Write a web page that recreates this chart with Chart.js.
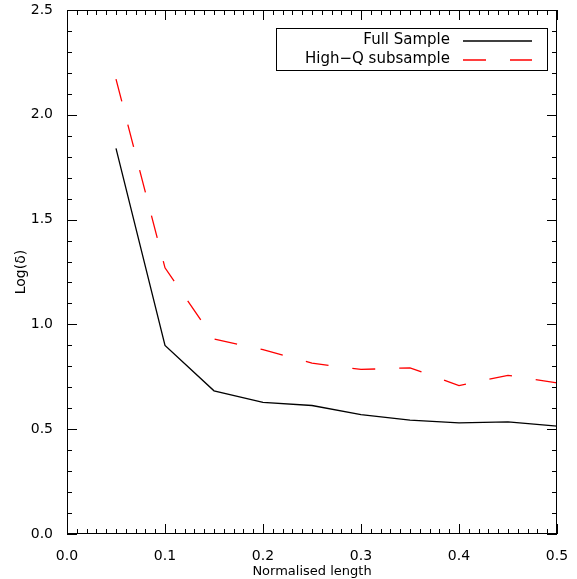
<!DOCTYPE html>
<html>
<head>
<meta charset="utf-8">
<script src="https://cdn.jsdelivr.net/npm/chart.js@4"></script>
<style>
  html, body { margin: 0; padding: 0; background: #fff; }
  #wrap { width: 577px; height: 579px; }
</style>
</head>
<body>
<div id="wrap"><canvas id="lineChart" width="577" height="579"></canvas></div>
<script>
// data
var lengths = [0.05, 0.10, 0.15, 0.20, 0.25, 0.30, 0.35, 0.40, 0.45, 0.50];
var fullSample = [1.84, 0.90, 0.683, 0.628, 0.613, 0.570, 0.543, 0.530, 0.535, 0.515];
var highQ = [2.17, 1.27, 0.93, 0.88, 0.815, 0.785, 0.793, 0.708, 0.757, 0.721];
var xTicks = [0.0, 0.1, 0.2, 0.3, 0.4, 0.5];
var yTicks = [0.0, 0.5, 1.0, 1.5, 2.0, 2.5];
var legendLabels = ["Full Sample", "High\u2212Q subsample"];

var font = "DejaVu Sans";

function pts(ys) {
    return lengths.map(function (x, i) { return { x: x, y: ys[i] }; });
}

// frame + inward ticks on all four sides, IDL style
var frameTicks = {
    id: "frameTicks",
    afterDraw: function (chart) {
        var ctx = chart.ctx, a = chart.chartArea;
        var xs = chart.scales.x, ys = chart.scales.y;
        ctx.save();
        ctx.strokeStyle = "#000";
        ctx.lineWidth = 1;
        ctx.strokeRect(a.left + 0.5, a.top + 0.5, a.right - a.left - 1, a.bottom - a.top - 1);
        ctx.beginPath();
        for (var i = 0; i <= 50; i++) {
            var v = i / 100;
            var px = Math.round(xs.getPixelForValue(v)) + 0.5;
            var len = (i % 10 === 0) ? 10 : 5;
            ctx.moveTo(px, a.bottom); ctx.lineTo(px, a.bottom - len);
            ctx.moveTo(px, a.top); ctx.lineTo(px, a.top + len);
        }
        for (var j = 0; j <= 25; j++) {
            var w = j / 10;
            var py = Math.round(ys.getPixelForValue(w)) + 0.5;
            var l2 = (j % 5 === 0) ? 10 : 5;
            ctx.moveTo(a.left, py); ctx.lineTo(a.left + l2, py);
            ctx.moveTo(a.right, py); ctx.lineTo(a.right - l2, py);
        }
        ctx.stroke();

        // legend box
        var bx = 276, by = 28, bw = 271, bh = 42;
        ctx.fillStyle = "#fff";
        ctx.fillRect(bx, by, bw, bh);
        ctx.strokeRect(bx + 0.5, by + 0.5, bw, bh);
        ctx.fillStyle = "#000";
        ctx.font = "15px '" + font + "'";
        ctx.textAlign = "right";
        ctx.textBaseline = "middle";
        ctx.fillText(legendLabels[0], 450, 40);
        ctx.fillText(legendLabels[1], 450, 59);
        ctx.lineWidth = 1.5;
        ctx.beginPath();
        ctx.moveTo(463, 41); ctx.lineTo(532, 41);
        ctx.stroke();
        ctx.strokeStyle = "#ff0000";
        ctx.setLineDash([23, 24]);
        ctx.beginPath();
        ctx.moveTo(463, 60); ctx.lineTo(532, 60);
        ctx.stroke();
        ctx.restore();
    }
};

var ctxL = document.getElementById("lineChart").getContext("2d");
var myLineChart = new Chart(ctxL, {
    type: "scatter",
    data: {
        datasets: [
            {
                label: legendLabels[0],
                data: pts(fullSample),
                showLine: true,
                borderColor: "#000000",
                borderWidth: 1.3,
                pointRadius: 0,
                tension: 0,
            },
            {
                label: legendLabels[1],
                data: pts(highQ),
                showLine: true,
                borderColor: "#ff0000",
                borderWidth: 1.3,
                borderDash: [23, 24],
                pointRadius: 0,
                tension: 0,
            },
        ],
    },
    options: {
        responsive: false,
        animation: false,
        layout: { padding: { top: 0, right: 20, left: 13, bottom: 0 } },
        plugins: {
            legend: { display: false },
            tooltip: { enabled: false },
        },
        scales: {
            x: {
                type: "linear",
                min: 0,
                max: 0.5,
                afterBuildTicks: function (s) { s.ticks = xTicks.map(function (v) { return { value: v }; }); },
                afterFit: function (s) { s.height = 45; },
                grid: { display: false },
                border: { display: false },
                ticks: {
                    color: "#000",
                    font: { family: font, size: 14 },
                    padding: 6,
                    maxRotation: 0,
                    callback: function (v) { return v.toFixed(1); },
                },
                title: {
                    display: true,
                    text: "Normalised length",
                    color: "#000",
                    font: { family: font, size: 13 },
                    padding: { top: 0, bottom: 0 },
                },
            },
            y: {
                type: "linear",
                min: 0,
                max: 2.5,
                afterBuildTicks: function (s) { s.ticks = yTicks.map(function (v) { return { value: v }; }); },
                afterFit: function (s) { s.width = 54; s.paddingTop = 10; s.paddingBottom = 0; },
                grid: { display: false },
                border: { display: false },
                ticks: {
                    color: "#000",
                    font: { family: font, size: 14 },
                    padding: 6,
                    callback: function (v) { return v.toFixed(1); },
                },
                title: {
                    display: true,
                    text: "Log(\u03b4)",
                    color: "#000",
                    font: { family: font, size: 14 },
                    padding: { top: 0, bottom: 4 },
                },
            },
        },
    },
    plugins: [frameTicks],
});
</script>
</body>
</html>
